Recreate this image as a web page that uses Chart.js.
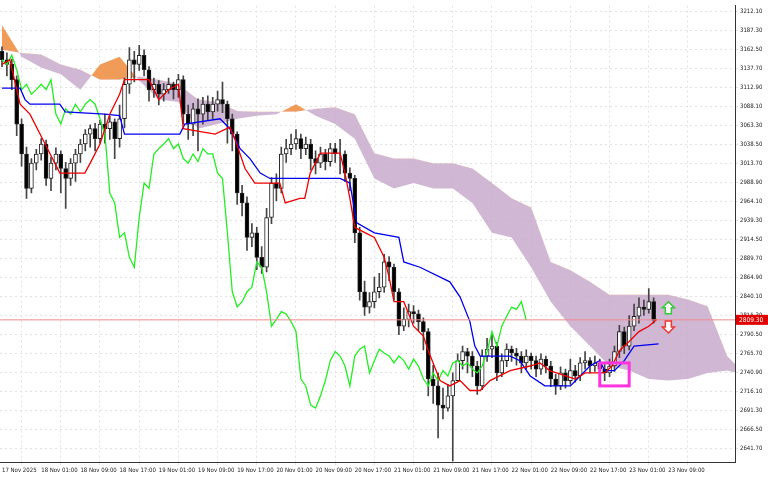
<!DOCTYPE html>
<html>
<head>
<meta charset="utf-8">
<script src="https://cdn.jsdelivr.net/npm/chart.js@4.4.1/dist/chart.umd.min.js"></script>
<style>
  html, body { margin: 0; padding: 0; background: #fff; }
  #wrap { width: 768px; height: 480px; }
</style>
</head>
<body>
<div id="wrap"><canvas id="chart" width="768" height="480"></canvas></div>
<script>
// Candles (index 0 = 17 Nov 2025)
const closes = [3149,3143,3123,3065,3026,2981,3014,3026,3039,2994,3014,3026,3007,2994,3014,3026,3039,3052,3059,3046,
  3065,3059,3068,3046,3072,3117,3149,3143,3155,3136,3110,3117,3104,3110,3117,3110,3123,3078,3065,3085,
  3078,3091,3081,3091,3097,3091,3072,3052,2975,2962,2917,2923,2891,2878,2943,2988,2981,3026,3033,3039,
  3046,3033,3039,3020,3014,3026,3016,3033,3026,3026,3001,2994,2923,2846,2826,2833,2846,2852,2885,2878,
  2846,2801,2810,2820,2817,2807,2794,2732,2723,2698,2694,2710,2730,2756,2768,2762,2749,2723,2762,2771,
  2775,2740,2756,2771,2766,2762,2753,2762,2756,2745,2758,2749,2732,2723,2740,2730,2743,2736,2753,2756,
  2749,2753,2745,2740,2749,2768,2794,2775,2801,2814,2826,2823,2833,2809];
const firstOpen = 3160;
const highs = [3166,3158,3150,3128,3072,3035,3020,3032,3046,3044,3022,3034,3030,3015,3020,3032,3045,3058,3064,3066,
  3070,3078,3075,3072,3090,3125,3165,3160,3168,3162,3140,3125,3122,3118,3125,3120,3130,3128,3090,3092,
  3098,3100,3102,3100,3108,3120,3095,3078,3055,2985,2970,2935,2930,2905,2955,2995,3000,3035,3045,3052,
  3058,3052,3048,3045,3030,3035,3032,3040,3040,3045,3030,3008,2998,2930,2860,2845,2865,2870,2895,2892,
  2882,2850,2825,2830,2828,2822,2812,2798,2750,2740,2720,2725,2740,2765,2775,2772,2768,2755,2770,2785,
  2790,2780,2765,2778,2775,2772,2768,2770,2766,2762,2765,2762,2755,2738,2748,2745,2758,2750,2760,2768,
  2760,2762,2758,2752,2758,2775,2802,2800,2815,2830,2838,2835,2850,2838];
const lows = [3140,3128,3110,3050,3010,2968,2975,3005,3018,2985,2978,3005,2975,2955,2985,2990,3015,3030,3035,3030,
  3040,3040,3045,3020,3035,3060,3105,3120,3135,3128,3095,3100,3090,3095,3105,3098,3100,3065,3045,3050,
  3030,3065,3070,3072,3082,3080,3040,3030,2960,2945,2900,2905,2875,2870,2872,2935,2965,2975,3015,3025,
  3032,3020,3025,3005,3000,3008,3005,3010,3015,3000,2990,2978,2910,2835,2815,2818,2825,2838,2845,2860,
  2835,2790,2795,2800,2805,2795,2770,2710,2700,2655,2680,2690,2625,2745,2745,2740,2735,2712,2718,2755,
  2760,2730,2735,2748,2755,2750,2740,2745,2745,2735,2738,2740,2722,2712,2718,2720,2725,2728,2730,2745,
  2740,2742,2736,2730,2735,2742,2760,2765,2770,2795,2805,2815,2818,2805];

// Tenkan-sen (red), break points [bar index, price]
const tenkanIdx = [0,1.6,3.7,5.7,8.8,11.8,16.9,18,20,22,24,25,30,32,34,36,37,43.5,46.5,47.5,49.6,51.6,56.7,57.8,60.8,61.8,
  62.9,65,69,70,71,72,76,78,79,80,82,84,86,87,89.4,91.4,93.5,95.5,97.6,99.6,103.7,107.8,109.8,111.8,117,119,123,124.5,126,128,130,132,133.7];
const tenkanVal = [3143,3149,3091,3078,3039,3001,3001,3014,3039,3078,3104,3123,3123,3097,3110,3117,3059,3052,3061,3046,3007,2988,2988,2962,2968,2968,
  3001,3027,3027,3001,2968,2930,2917,2891,2865,2833,2833,2801,2788,2769,2730,2723,2730,2717,2717,2730,2743,2749,2753,2743,2732,2740,2740,2749,2769,2781,2794,2801,2810];
// Kijun-sen (blue)
const kijunIdx = [0,3.7,4.7,5.7,11.8,12.9,21,24,25,36.3,37.3,44.5,46.5,48.6,50.6,52.7,54.7,69,71,72.4,76,81,82,85.3,91.4,93.5,95.5,96.5,97.6,
  103.7,105.7,107.8,110.8,116,118,120,122,123,125,127,129,134];
const kijunVal = [3112,3112,3097,3091,3091,3081,3078,3076,3052,3052,3065,3072,3059,3033,3020,3001,2994,2994,2988,2936,2923,2917,2885,2878,2859,2839,2807,2775,2762,
  2762,2756,2736,2723,2723,2736,2749,2756,2743,2743,2756,2775,2778];
// Senkou spans (cloud, shifted forward), every 4 bars
const cloudIdx = [0,4,8,12,16,20,24,28,32,36,40,44,48,52,56,60,64,68,72,76,80,84,88,92,96,100,104,108,112,116,120,124,128,132,136,140,144,148,150];
const spanA = [3194,3153,3139,3130,3110,3143,3153,3122,3097,3094,3059,3065,3072,3076,3078,3091,3076,3065,3046,2994,2981,2988,2981,2981,2962,2923,2917,2878,2833,2801,2775,2749,2743,2732,2730,2732,2740,2743,2740];
const spanB = [3162,3158,3156,3143,3136,3123,3123,3127,3123,3117,3097,3094,3082,3081,3081,3081,3085,3087,3078,3027,3020,3020,3014,3014,3007,2988,2968,2956,2885,2874,2859,2842,2842,2842,2842,2836,2827,2762,2749];
const chikouShift = 26;

const timeLabels = ['17 Nov 2025','18 Nov 01:00','18 Nov 09:00','18 Nov 17:00','19 Nov 01:00','19 Nov 09:00','19 Nov 17:00',
  '20 Nov 01:00','20 Nov 09:00','20 Nov 17:00','21 Nov 01:00','21 Nov 09:00','21 Nov 17:00','22 Nov 01:00','22 Nov 09:00',
  '22 Nov 17:00','23 Nov 01:00','23 Nov 09:00'];
const labelStep = 8;
const priceTicks = [3212.10,3187.30,3162.50,3137.70,3112.90,3088.10,3063.30,3038.50,3013.70,2988.90,2964.10,2939.30,2914.50,
  2889.70,2864.90,2840.10,2815.30,2790.50,2765.70,2740.90,2716.10,2691.30,2666.50,2641.70];
const lastPrice = 2809.30;
const boxBars = [122, 128], boxPrices = [2753, 2723];
const arrowIdx = 136;

const opens = closes.map((c, i) => i === 0 ? firstOpen : closes[i - 1]);
const wicks = closes.map((c, i) => ({ x: i, y: [lows[i], highs[i]] }));
const bodies = closes.map((c, i) => ({ x: i, y: [opens[i], c] }));
const bodyColors = closes.map((c, i) => c >= opens[i] ? '#ffffff' : '#000000');
const pts = (xs, ys) => xs.map((x, i) => ({ x, y: ys[i] }));
const chikou = closes.slice(chikouShift).map((c, i) => ({ x: i, y: c }));

const FONT = 'DejaVu Sans Condensed, DejaVu Sans, sans-serif';

const overlay = {
  id: 'overlay',
  afterDatasetsDraw(chart) {
    const { ctx, scales: { x, y }, chartArea: a } = chart;
    ctx.save();
    const py = y.getPixelForValue(lastPrice);
    ctx.strokeStyle = '#f08a8a';
    ctx.lineWidth = 1;
    ctx.beginPath(); ctx.moveTo(a.left, py); ctx.lineTo(a.right, py); ctx.stroke();
    ctx.strokeStyle = '#ff33dd';
    ctx.lineWidth = 3;
    const bx0 = x.getPixelForValue(boxBars[0]), bx1 = x.getPixelForValue(boxBars[1]);
    const by0 = y.getPixelForValue(boxPrices[0]), by1 = y.getPixelForValue(boxPrices[1]);
    ctx.strokeRect(bx0, by0, bx1 - bx0, by1 - by0);
    const ax = x.getPixelForValue(arrowIdx);
    const drawArrow = (cx, cy, dir, col) => {
      ctx.strokeStyle = col; ctx.lineWidth = 1.5; ctx.fillStyle = '#fff';
      ctx.beginPath();
      ctx.moveTo(cx, cy - 6 * dir);
      ctx.lineTo(cx + 6, cy);
      ctx.lineTo(cx + 3, cy);
      ctx.lineTo(cx + 3, cy + 6 * dir);
      ctx.lineTo(cx - 3, cy + 6 * dir);
      ctx.lineTo(cx - 3, cy);
      ctx.lineTo(cx - 6, cy);
      ctx.closePath(); ctx.fill(); ctx.stroke();
    };
    drawArrow(ax, y.getPixelForValue(2825), 1, '#33cc33');
    drawArrow(ax, y.getPixelForValue(2800), -1, '#ee3333');
    ctx.fillStyle = '#e00000';
    ctx.fillRect(a.right + 1, py - 5, 32, 10);
    ctx.fillStyle = '#fff';
    ctx.font = '6.5px ' + FONT;
    ctx.textBaseline = 'middle';
    ctx.fillText(lastPrice.toFixed(2), a.right + 4, py);
    ctx.restore();
  }
};

new Chart(document.getElementById('chart'), {
  type: 'bar',
  data: {
    datasets: [
      { type: 'line', label: 'spanB', data: pts(cloudIdx, spanB), borderWidth: 0, pointRadius: 0, borderColor: 'rgba(0,0,0,0)', fill: false, order: 10 },
      { type: 'line', label: 'spanA', data: pts(cloudIdx, spanA), borderWidth: 0, pointRadius: 0, borderColor: 'rgba(0,0,0,0)',
        fill: { target: 0, above: 'rgba(240,150,80,0.95)', below: 'rgba(200,170,205,0.85)' }, order: 9 },
      { type: 'line', label: 'chikou', data: chikou, borderColor: '#22ee22', borderWidth: 1.3, pointRadius: 0, order: 3 },
      { type: 'line', label: 'kijun', data: pts(kijunIdx, kijunVal), borderColor: '#0000ee', borderWidth: 1.3, pointRadius: 0, order: 2 },
      { type: 'line', label: 'tenkan', data: pts(tenkanIdx, tenkanVal), borderColor: '#ee0000', borderWidth: 1.3, pointRadius: 0, order: 1 },
      { label: 'wick', data: wicks, backgroundColor: '#444', barThickness: 1, grouped: false, order: 5 },
      { label: 'body', data: bodies, backgroundColor: bodyColors, borderColor: '#222', borderWidth: 1, borderSkipped: false,
        barThickness: 4, grouped: false, order: 4 }
    ]
  },
  options: {
    responsive: false,
    animation: false,
    layout: { padding: 0 },
    plugins: { legend: { display: false }, tooltip: { enabled: false } },
    scales: {
      x: {
        type: 'linear', min: -0.4, max: 149.6, offset: false,
        afterBuildTicks: s => { s.ticks = timeLabels.map((t, i) => ({ value: i * labelStep })); },
        afterFit: s => { s.height = 18; },
        ticks: { autoSkip: false, maxRotation: 0, align: 'start', padding: 2,
          callback: v => timeLabels[v / labelStep], font: { family: FONT, size: 6 }, color: '#222' },
        grid: { color: '#e2e2e2', tickLength: 3, drawTicks: true },
        border: { color: '#333', dash: [2, 3] }
      },
      y: {
        position: 'right', min: 2623.6, max: 3219.8,
        afterBuildTicks: s => { s.ticks = priceTicks.map(v => ({ value: v })); },
        afterFit: s => { s.width = 33; },
        ticks: { callback: v => v.toFixed(2), font: { family: FONT, size: 6 }, color: '#222', padding: 2 },
        grid: { color: '#e2e2e2', tickLength: 3 },
        border: { color: '#333', dash: [2, 3] }
      }
    }
  },
  plugins: [overlay]
});
</script>
</body>
</html>
